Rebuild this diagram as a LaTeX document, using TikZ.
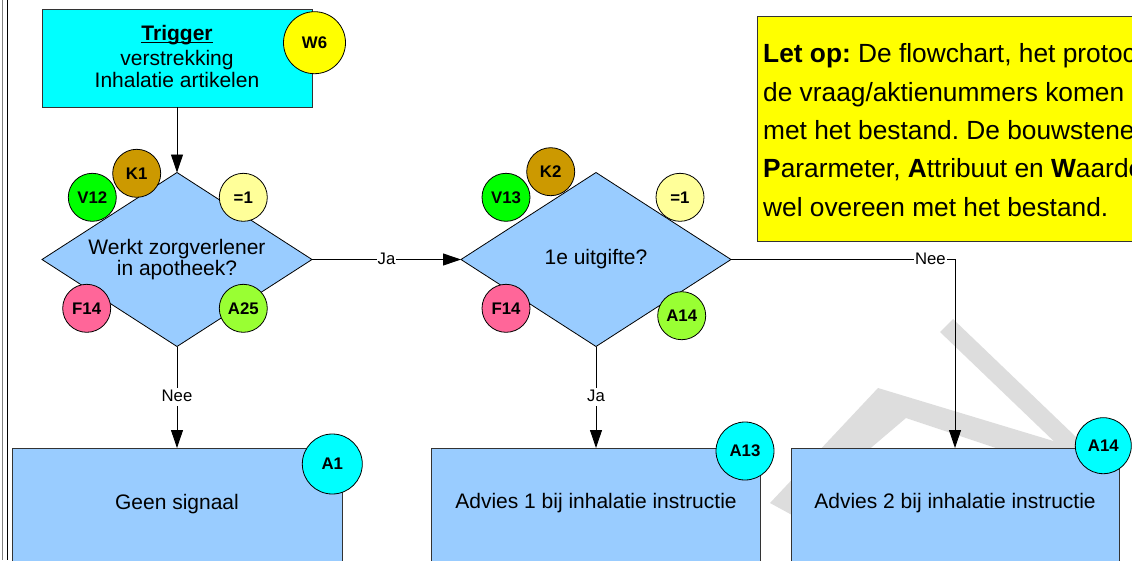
\documentclass[tikz,border=0pt]{standalone}
\usepackage{fontspec}
\setmainfont{Liberation Sans}
\usetikzlibrary{shapes.geometric,arrows.meta}

\definecolor{boxblue}{HTML}{99CCFF}
\definecolor{trigcyan}{HTML}{00FFFF}
\definecolor{noteyellow}{HTML}{FFFF00}
\definecolor{kbrown}{HTML}{CC9900}
\definecolor{vgreen}{HTML}{00FF00}
\definecolor{eqyellow}{HTML}{FFFF99}
\definecolor{fpink}{HTML}{FF6699}
\definecolor{agreen}{HTML}{99FF33}
\definecolor{edgegray}{HTML}{333333}
\definecolor{stampgray}{HTML}{DDDDDD}

% underline sitting just below the baseline
\newcommand\baseul[1]{\setbox0\hbox{#1}\rlap{\rule[-2.4pt]{\wd0}{1.3pt}}\box0}

\tikzset{
  flowline/.style={draw=black, line width=0.9pt},
  flowarrow/.style={flowline, -{Triangle[length=18pt,width=12pt]}},
  edgelabel/.style={fill=white, inner xsep=1pt, inner ysep=1.5pt, text height=12pt, text depth=3pt,
    font=\fontsize{16.7}{18}\selectfont},
  trigbox/.style={rectangle, draw=edgegray, fill=trigcyan, line width=0.8pt,
    minimum width=270pt, minimum height=98pt, inner sep=0pt},
  trigtext/.style={inner sep=0pt, align=center, font=\fontsize{21}{22}\selectfont},
  decision/.style={diamond, draw=black, fill=boxblue, line width=0.8pt, aspect=1.55,
    minimum width=270pt, minimum height=174pt, inner sep=0pt, outer sep=0pt, align=center,
    font=\fontsize{21}{21.5}\selectfont},
  actionbox/.style={rectangle, draw=edgegray, fill=boxblue, line width=0.8pt,
    minimum height=200pt, inner sep=0pt, anchor=north},
  actiontext/.style={inner sep=0pt, font=\fontsize{21}{22}\selectfont},
  tag/.style={circle, draw=black, line width=0.8pt, inner sep=0pt, minimum size=48pt,
    font=\bfseries\fontsize{16.8}{17}\selectfont},
  bigtag/.style={tag, minimum size=59pt},
  notebox/.style={rectangle, draw=edgegray, fill=noteyellow, line width=0.8pt,
    minimum width=420pt, minimum height=225pt, anchor=north west, inner sep=0pt},
  noteline/.style={anchor=base west, inner sep=0pt, font=\fontsize{26.3}{30}\selectfont},
}

\begin{document}
\frenchspacing
\begin{tikzpicture}[x=1pt,y=-1pt]
\useasboundingbox (0,0) rectangle (1132,560);
\clip (0,0) rectangle (1132,560);

% page frame on the left
\draw[gray, line width=0.9pt] (2.5,0) -- (2.5,560);
\draw[black, line width=1pt] (7.5,0) -- (7.5,560);

% faint stamp in the background
\fill[stampgray] (940,332) -- (953,319) -- (1100,460) -- (1087,473) -- cycle;
\fill[stampgray] (770,503) -- (878,388) -- (1070,446) -- (1062,470) -- (906,418) -- (792,515) -- cycle;

% note
\node[notebox] (note) at (757,16) {};
\node[noteline] (n1) at (763,62.7) {\textbf{Let op:} De flowchart, het protocol en};
\node[noteline] (n2) at (763,101) {de vraag/aktienummers komen niet overeen};
\node[noteline] (n3) at (763,139.3) {met het bestand. De bouwstenen Vraag,};
\node[noteline] (n4) at (763,177.6) {\textbf{P}ararmeter, \textbf{A}ttribuut en \textbf{W}aarde komen};
\node[noteline] (n5) at (763,216) {wel overeen met het bestand.};

% trigger
\node[trigbox] (trig) at (177,58) {};
\node[trigtext] (trigt) at (177,56.5) {\baseul{\textbf{Trigger}}\\[3pt]verstrekking\\Inhalatie artikelen};
\node[tag, fill=noteyellow, minimum size=62pt] (w6) at (314.5,42.7) {W6};

% decisions
\node[decision] (d1) at (177,259.5) {Werkt zorgverlener\\in apotheek?};
\node[decision] (d2) at (596,259.5) {1e uitgifte?};

% actions
\node[actionbox, minimum width=330pt] (b1) at (177,448) {};
\node[actionbox, minimum width=329pt] (b2) at (596,448) {};
\node[actionbox, minimum width=328pt] (b3) at (955,448) {};
\node[actiontext] (t1) at (177,504) {Geen signaal};
\node[actiontext] (t2) at (596,503.5) {Advies 1 bij inhalatie instructie};
\node[actiontext] (t3) at (955,503.5) {Advies 2 bij inhalatie instructie};

% connectors
\draw[flowarrow] (trig.south) -- (d1.north);
\draw[flowarrow] (d1.east) -- node[edgelabel] (l1) {Ja} (d2.west);
\draw[flowarrow] (d1.south) -- node[edgelabel] (l2) {Nee} (b1.north);
\draw[flowarrow] (d2.south) -- node[edgelabel] (l3) {Ja} (b2.north);
\draw[flowarrow] (d2.east) -| node[edgelabel, pos=0.445] (l4) {Nee} (b3.north);

% tags round the first decision
\node[tag, fill=kbrown] (k1) at (136.7,173.3) {K1};
\node[tag, fill=vgreen] (v12) at (92.3,197.3) {V12};
\node[tag, fill=eqyellow] (e1) at (243.3,197.3) {=1};
\node[tag, fill=fpink] (f14a) at (86.7,308.3) {F14};
\node[tag, fill=agreen] (a25) at (243.3,308.3) {A25};

% tags round the second decision
\node[tag, fill=kbrown] (k2) at (550.7,171.7) {K2};
\node[tag, fill=vgreen] (v13) at (506,197.3) {V13};
\node[tag, fill=eqyellow] (e2) at (680,197.3) {=1};
\node[tag, fill=fpink] (f14b) at (506,308.3) {F14};
\node[tag, fill=agreen] (a14g) at (681.7,315.7) {A14};

% tags on the actions
\node[bigtag, fill=trigcyan, minimum size=60pt] (a1) at (332.3,464) {A1};
\node[bigtag, fill=trigcyan, minimum size=58pt] (a13) at (745,451) {A13};
\node[bigtag, fill=trigcyan, minimum size=56pt] (a14) at (1103.3,445.7) {A14};
\end{tikzpicture}
\end{document}
